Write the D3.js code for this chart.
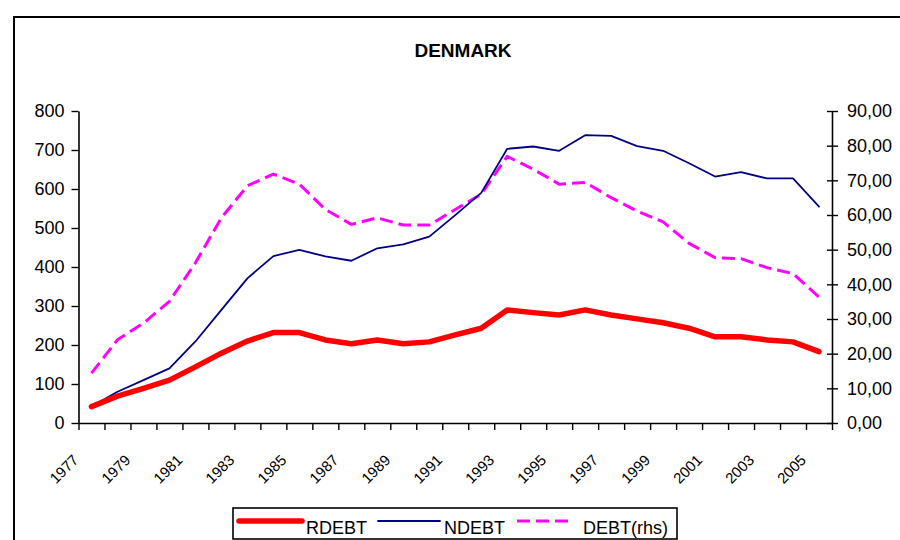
<!DOCTYPE html>
<html>
<head>
<meta charset="utf-8">
<script src="https://cdn.jsdelivr.net/npm/d3@7/dist/d3.min.js"></script>
<style>
  html, body { margin: 0; padding: 0; background: #fff; }
  svg { display: block; font-family: "Liberation Sans", Arial, sans-serif; }
</style>
</head>
<body>
<svg id="chart" width="900" height="540"></svg>
<script>
'use strict';

const years = d3.range(1977, 2006);
const yearLabels = years.filter((d, i) => i % 2 === 0);

const rdebt = [42, 69, 89, 110, 144, 179, 210, 232, 232, 213, 203, 213, 203, 208, 226,
  243, 290, 283, 277, 290, 277, 267, 257, 243, 221, 221, 213, 208, 183];
const ndebt = [42, 80, 110, 140, 209, 290, 371, 428, 444, 427, 416, 448, 458, 478, 533,
  590, 703, 709, 698, 738, 736, 710, 698, 666, 632, 643, 627, 627, 555];
const debt = [14.4, 24, 28.8, 35.1, 46.2, 59.2, 68.4, 71.8, 68.9, 61.6, 57.3, 59.2, 57.1, 57.1, 61.6,
  66, 76.9, 73.2, 68.9, 69.4, 65, 61.1, 58, 51.8, 47.7, 47.4, 44.8, 43.1, 36.3];

const leftTicks = [0, 100, 200, 300, 400, 500, 600, 700, 800];
const rightTicks = [0, 10, 20, 30, 40, 50, 60, 70, 80, 90];

const series = [
  { name: 'RDEBT', values: rdebt, axis: 'left', color: '#ff0000', width: 5.5, dash: null },
  { name: 'NDEBT', values: ndebt, axis: 'left', color: '#000080', width: 1.8, dash: null },
  { name: 'DEBT(rhs)', values: debt, axis: 'right', color: '#ff00ff', width: 3, dash: '13,6' }
];

const svg = d3.select('#chart');
const plot = { left: 78.5, right: 832, top: 111, bottom: 423 };

// outer frame
svg.append('rect')
  .attr('x', 14).attr('y', 17)
  .attr('width', 900).attr('height', 540)
  .attr('fill', 'none').attr('stroke', '#000').attr('stroke-width', 2);

svg.append('text')
  .attr('x', 463).attr('y', 57)
  .attr('text-anchor', 'middle')
  .attr('font-size', 19).attr('font-weight', 'bold')
  .text('DENMARK');

const x = d3.scaleBand().domain(years).range([plot.left, plot.right]).padding(0);
const xEdge = d3.scaleLinear().domain([0, years.length]).range([plot.left, plot.right]);
const yL = d3.scaleLinear().domain([0, 800]).range([plot.bottom, plot.top]);
const yR = d3.scaleLinear().domain([0, 90]).range([plot.bottom, plot.top]);
const comma = d3.formatLocale({ decimal: ',', thousands: '.', grouping: [3], currency: ['', ''] }).format('.2f');

const cx = d => x(d) + x.bandwidth() / 2;

// axes
const axL = svg.append('g')
  .attr('transform', `translate(${plot.left},0)`)
  .call(d3.axisLeft(yL).tickValues(leftTicks).tickSizeInner(7).tickSizeOuter(0).tickPadding(7));

const axR = svg.append('g')
  .attr('transform', `translate(${plot.right},0)`)
  .call(d3.axisRight(yR).tickValues(rightTicks).tickFormat(comma).tickSizeInner(6).tickSizeOuter(0).tickPadding(9));
axR.selectAll('.tick line').attr('x1', -5);

const axB = svg.append('g')
  .attr('transform', `translate(0,${plot.bottom})`)
  .call(d3.axisBottom(xEdge).tickValues(d3.range(years.length + 1)).tickFormat('').tickSizeInner(7).tickSizeOuter(0));

[axL, axR, axB].forEach(g => {
  g.selectAll('path.domain').attr('stroke', '#000').attr('stroke-width', 1.6);
  g.selectAll('.tick line').attr('stroke', '#000').attr('stroke-width', 1.4);
  g.selectAll('.tick text').attr('fill', '#000').attr('font-size', 18)
    .attr('font-family', '"Liberation Sans", Arial, sans-serif');
});

// rotated year labels
svg.append('g')
  .selectAll('text')
  .data(yearLabels)
  .enter().append('text')
  .attr('transform', d => `translate(${cx(d) - 12},461) rotate(-45)`)
  .attr('text-anchor', 'end')
  .attr('font-size', 15)
  .text(d => d);

// lines
const lineFor = s => d3.line()
  .x((v, i) => cx(years[i]))
  .y(v => (s.axis === 'left' ? yL(v) : yR(v)));

const drawOrder = [series[2], series[1], series[0]];
svg.append('g')
  .selectAll('path')
  .data(drawOrder)
  .enter().append('path')
  .attr('d', s => lineFor(s)(s.values))
  .attr('fill', 'none')
  .attr('stroke', s => s.color)
  .attr('stroke-width', s => s.width)
  .attr('stroke-dasharray', s => s.dash)
  .attr('stroke-linejoin', 'round')
  .attr('stroke-linecap', s => (s.dash ? 'butt' : 'round'));

// legend
const legend = svg.append('g').attr('class', 'legend');
legend.append('rect')
  .attr('x', 233).attr('y', 508)
  .attr('width', 444).attr('height', 31)
  .attr('fill', '#fff').attr('stroke', '#000').attr('stroke-width', 1.6);

const legendPos = [
  { x1: 239, x2: 302, tx: 306 },
  { x1: 378, x2: 440, tx: 444 },
  { x1: 517, x2: 572, tx: 583 }
];

series.forEach((s, i) => {
  const p = legendPos[i];
  legend.append('line')
    .attr('x1', p.x1).attr('x2', p.x2)
    .attr('y1', 521).attr('y2', 521)
    .attr('stroke', s.color)
    .attr('stroke-width', s.width)
    .attr('stroke-dasharray', s.dash)
    .attr('stroke-linecap', s.dash ? 'butt' : 'round');
  legend.append('text')
    .attr('x', p.tx).attr('y', 534)
    .attr('font-size', 18)
    .text(s.name);
});
</script>
</body>
</html>
